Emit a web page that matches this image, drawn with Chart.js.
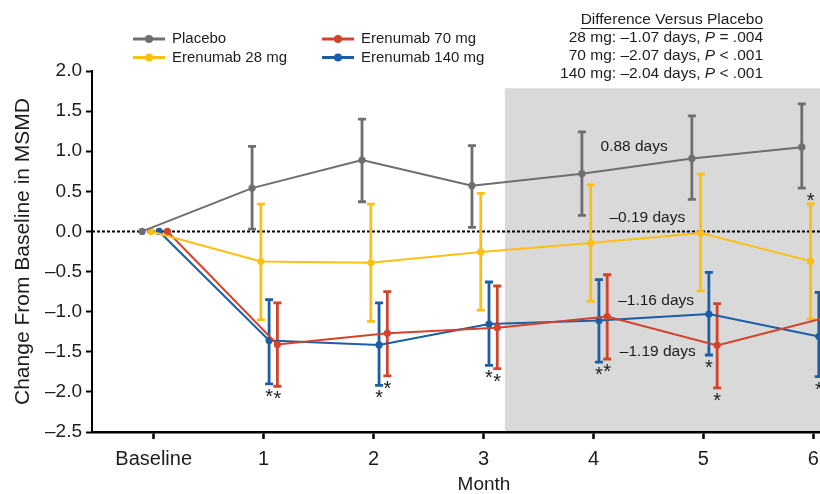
<!DOCTYPE html>
<html>
<head>
<meta charset="utf-8">
<script src="https://cdn.jsdelivr.net/npm/chart.js@4.4.0/dist/chart.umd.min.js"></script>
<style>
html, body { margin: 0; padding: 0; background: #fff; overflow: hidden; }
#frame { width: 820px; height: 494px; overflow: hidden; position: relative; }
#wrap { width: 880px; height: 494px; position: absolute; left: 0; top: 0; }
</style>
</head>
<body>
<div id="frame"><div id="wrap"><canvas id="myChart"></canvas></div></div>
<script>
// x positions (0 = Baseline) and their labels
const months = [0, 1, 2, 3, 4, 5, 6];
const monthLabels = ['Baseline', '1', '2', '3', '4', '5', '6'];

// mean change from baseline in MSMD, with error bar ends
const placebo   = [0, 0.54, 0.89, 0.57, 0.72, 0.91, 1.05];
const placeboLo = [null, 0.03, 0.37, 0.05, 0.20, 0.40, 0.54];
const placeboHi = [null, 1.06, 1.40, 1.07, 1.24, 1.44, 1.59];

const dose28   = [0, -0.375, -0.39, -0.255, -0.145, -0.02, -0.37];
const dose28Lo = [null, -1.10, -1.12, -0.98, -0.87, -0.74, -1.09];
const dose28Hi = [null, 0.34, 0.34, 0.475, 0.58, 0.715, 0.345];

const dose70   = [0, -1.41, -1.27, -1.20, -1.06, -1.42, -1.07];
const dose70Lo = [null, -1.93, -1.80, -1.71, -1.59, -1.95, -1.60];
const dose70Hi = [null, -0.89, -0.75, -0.68, -0.54, -0.90, -0.54];

const dose140   = [0, -1.36, -1.415, -1.155, -1.11, -1.03, -1.31];
const dose140Lo = [null, -1.90, -1.92, -1.67, -1.63, -1.54, -1.81];
const dose140Hi = [null, -0.85, -0.89, -0.63, -0.60, -0.51, -0.76];

// significance markers (*) per month
const sigPlacebo = [0, 0, 0, 0, 0, 0, 0];
const sig28      = [0, 0, 0, 0, 0, 0, 1];
const sig70      = [0, 1, 1, 1, 1, 1, 1];
const sig140     = [0, 1, 1, 1, 1, 1, 1];

// average over months 4-6, written on the chart
const dayLabels = ['0.88 days', '–0.19 days', '–1.16 days', '–1.19 days'];

// difference versus placebo note
const diffTitle = 'Difference Versus Placebo';
const diffDose = ['28 mg', '70 mg', '140 mg'];
const diffDays = ['–1.07', '–2.07', '–2.04'];
const diffP = ['= .004', '< .001', '< .001'];

const series = [
    { label: 'Placebo', mean: placebo, lo: placeboLo, hi: placeboHi, sig: sigPlacebo, color: '#6e6e6e', shift: -0.105, star: 'below' },
    { label: 'Erenumab 28 mg', mean: dose28, lo: dose28Lo, hi: dose28Hi, sig: sig28, color: '#fdbf14', shift: -0.025, star: 'above' },
    { label: 'Erenumab 70 mg', mean: dose70, lo: dose70Lo, hi: dose70Hi, sig: sig70, color: '#d3432c', shift: 0.125, star: 'below' },
    { label: 'Erenumab 140 mg', mean: dose140, lo: dose140Lo, hi: dose140Hi, sig: sig140, color: '#1a5ea8', shift: 0.05, star: 'below' }
];

const FONT = "'Liberation Sans', Arial, sans-serif";
const INK = '#1d1d1d';
const dash = (v) => v < 0 ? '–' + Math.abs(v).toFixed(1) : v.toFixed(1);

const overlay = {
    id: 'overlay',
    beforeDraw(chart) {
        const { ctx, chartArea, scales: { x, y } } = chart;
        // shaded months 4-6 window
        const left = x.getPixelForValue(3.195);
        const top = y.getPixelForValue(1.785);
        ctx.save();
        ctx.fillStyle = '#d9d9d9';
        ctx.fillRect(left, top, chartArea.right - left, chartArea.bottom - top);
        ctx.restore();
    },
    beforeDatasetsDraw(chart) {
        const { ctx, chartArea, scales: { x, y } } = chart;
        ctx.save();
        // dotted zero line
        const y0 = y.getPixelForValue(0);
        ctx.strokeStyle = '#000';
        ctx.lineWidth = 2;
        ctx.setLineDash([3, 2]);
        ctx.beginPath();
        ctx.moveTo(chartArea.left, y0);
        ctx.lineTo(chartArea.right, y0);
        ctx.stroke();
        ctx.setLineDash([]);
        // error bars
        series.forEach((s) => {
            ctx.strokeStyle = s.color;
            ctx.lineWidth = 2.8;
            months.forEach((m, i) => {
                if (s.lo[i] === null) return;
                const px = x.getPixelForValue(m + s.shift);
                const pLo = y.getPixelForValue(s.lo[i]);
                const pHi = y.getPixelForValue(s.hi[i]);
                ctx.beginPath();
                ctx.moveTo(px, pLo);
                ctx.lineTo(px, pHi);
                ctx.moveTo(px - 4, pLo);
                ctx.lineTo(px + 4, pLo);
                ctx.moveTo(px - 4, pHi);
                ctx.lineTo(px + 4, pHi);
                ctx.stroke();
            });
        });
        ctx.restore();
    },
    afterDatasetsDraw(chart) {
        const { ctx, scales: { x, y } } = chart;
        ctx.save();
        ctx.fillStyle = INK;
        ctx.textAlign = 'center';
        ctx.textBaseline = 'alphabetic';

        // asterisks
        ctx.font = '20px ' + FONT;
        series.forEach((s) => {
            months.forEach((m, i) => {
                if (!s.sig[i]) return;
                const px = x.getPixelForValue(m + s.shift);
                const cy = s.star === 'above'
                    ? y.getPixelForValue(s.hi[i]) - 8
                    : y.getPixelForValue(s.lo[i]) + 7.5;
                ctx.fillText('*', px, cy + 11.4);
            });
        });

        // day labels
        const spots = [[4.37, 1.05], [4.49, 0.165], [4.57, -0.86], [4.585, -1.495]];
        ctx.font = '15.5px ' + FONT;
        ctx.textBaseline = 'middle';
        dayLabels.forEach((t, k) => {
            ctx.fillText(t, x.getPixelForValue(spots[k][0]), y.getPixelForValue(spots[k][1]));
        });

        // legend
        const legendAt = [[133, 39], [133, 57.5], [322, 39], [322, 57.5]];
        ctx.textAlign = 'left';
        ctx.font = '15px ' + FONT;
        series.forEach((s, k) => {
            const [lx, ly] = legendAt[k];
            ctx.strokeStyle = s.color;
            ctx.lineWidth = 3;
            ctx.beginPath();
            ctx.moveTo(lx, ly);
            ctx.lineTo(lx + 32, ly);
            ctx.stroke();
            ctx.fillStyle = s.color;
            ctx.beginPath();
            ctx.arc(lx + 16, ly, 4, 0, Math.PI * 2);
            ctx.fill();
            ctx.fillStyle = INK;
            ctx.fillText(s.label, lx + 39, ly);
        });

        // difference versus placebo
        const right = 763;
        ctx.textAlign = 'left';
        ctx.font = '15.5px ' + FONT;
        const tw = ctx.measureText(diffTitle).width;
        ctx.fillText(diffTitle, right - tw, 20);
        ctx.strokeStyle = INK;
        ctx.lineWidth = 1;
        ctx.beginPath();
        ctx.moveTo(right - tw, 28.5);
        ctx.lineTo(right, 28.5);
        ctx.stroke();
        diffDose.forEach((d, k) => {
            const a = d + ': ' + diffDays[k] + ' days, ';
            const b = 'P';
            const c = ' ' + diffP[k];
            ctx.font = '15.5px ' + FONT;
            const wa = ctx.measureText(a).width;
            const wc = ctx.measureText(c).width;
            ctx.font = 'italic 15.5px ' + FONT;
            const wb = ctx.measureText(b).width;
            let px = right - wa - wb - wc;
            const py = 37.7 + k * 17.8;
            ctx.font = '15.5px ' + FONT;
            ctx.fillText(a, px, py);
            px += wa;
            ctx.font = 'italic 15.5px ' + FONT;
            ctx.fillText(b, px, py);
            px += wb;
            ctx.font = '15.5px ' + FONT;
            ctx.fillText(c, px, py);
        });
        ctx.restore();
    }
};

Chart.defaults.font.family = FONT;
Chart.defaults.color = INK;

const ctx = document.getElementById('myChart').getContext('2d');
const chart = new Chart(ctx, {
    type: 'line',
    data: {
        datasets: series.map((s) => ({
            label: s.label,
            data: months.map((m, i) => ({ x: m + s.shift, y: s.mean[i] })),
            borderColor: s.color,
            backgroundColor: s.color,
            borderWidth: 2,
            pointRadius: 3.6,
            pointBorderWidth: 0,
            tension: 0
        }))
    },
    options: {
        responsive: true,
        maintainAspectRatio: false,
        animation: false,
        layout: { padding: { top: 71, left: 0, right: 0, bottom: 0 } },
        plugins: {
            legend: { display: false },
            tooltip: { enabled: false }
        },
        scales: {
            x: {
                type: 'linear',
                min: -0.561,
                max: 6.570,
                afterBuildTicks: (scale) => { scale.ticks = months.map((m) => ({ value: m })); },
                afterFit: (scale) => { scale.height = 62; },
                ticks: {
                    font: { size: 20 },
                    padding: 8,
                    callback: (v) => monthLabels[months.indexOf(v)]
                },
                grid: { drawOnChartArea: false, tickLength: 7, tickColor: '#000', tickWidth: 2.5 },
                border: { color: '#000', width: 2.5 },
                title: { display: true, text: 'Month', font: { size: 19, lineHeight: 1 }, padding: { top: 0, bottom: 0 } }
            },
            y: {
                min: -2.5,
                max: 2.0,
                afterFit: (scale) => { scale.width = 92; },
                ticks: {
                    stepSize: 0.5,
                    font: { size: 19 },
                    padding: 4,
                    callback: (v) => dash(v)
                },
                grid: { drawOnChartArea: false, tickLength: 6, tickColor: '#000', tickWidth: 2 },
                border: { color: '#000', width: 2 },
                title: { display: true, text: 'Change From Baseline in MSMD', font: { size: 21 }, padding: { top: 11, bottom: 0 } }
            }
        }
    },
    plugins: [overlay]
});
</script>
</body>
</html>
